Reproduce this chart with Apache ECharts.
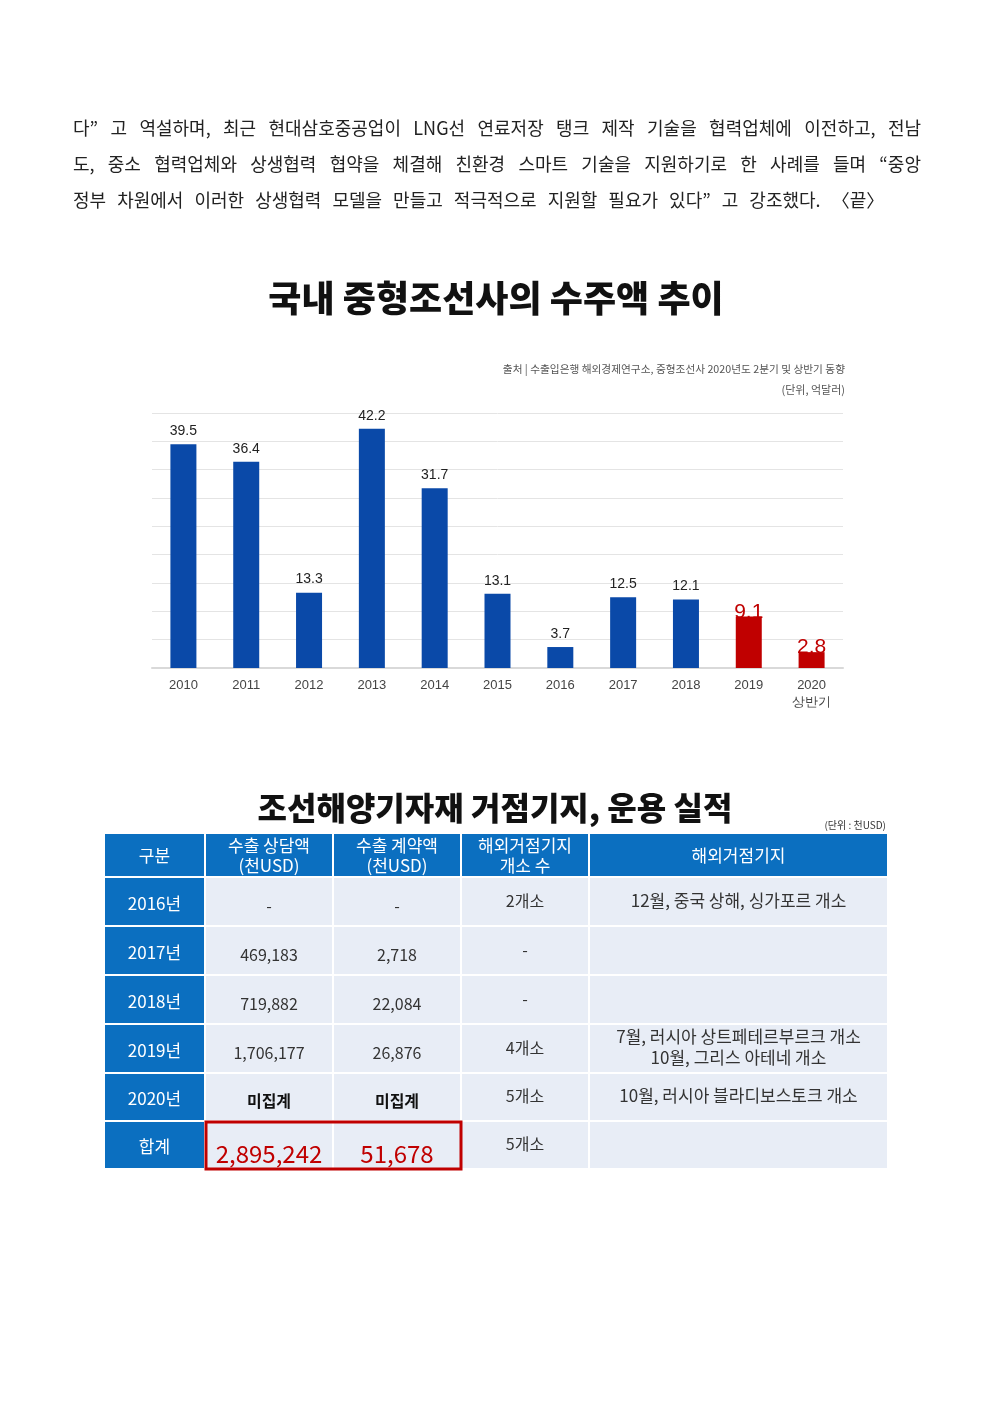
<!DOCTYPE html>
<html>
<head>
<meta charset="utf-8">
<script src="https://cdn.jsdelivr.net/npm/echarts@6/dist/echarts.min.js"></script>
<style>
  html, body { margin: 0; padding: 0; background: #fff; }
  #page { position: relative; width: 992px; height: 1403px; }
  #main { position: absolute; left: 0; top: 0; width: 992px; height: 1403px; }
  #para { position: absolute; left: 73px; top: 109px; width: 848px;
    font-family: "Noto Sans CJK KR", sans-serif; font-size: 18px; line-height: 36px; color: #222; }
  #para div { text-align: justify; text-align-last: justify; white-space: nowrap; }
  #para div.last { text-align: left; text-align-last: left; word-spacing: 7px; }
</style>
</head>
<body>
<div id="page">
  <div id="main"></div>
  <div id="para"></div>
</div>
<script>
// 본문 텍스트
var paraLines = [
  '다” 고 역설하며, 최근 현대삼호중공업이 LNG선 연료저장 탱크 제작 기술을 협력업체에 이전하고, 전남',
  '도, 중소 협력업체와 상생협력 협약을 체결해 친환경 스마트 기술을 지원하기로 한 사례를 들며 “중앙',
  '정부 차원에서 이러한 상생협력 모델을 만들고 적극적으로 지원할 필요가 있다” 고 강조했다. 〈끝〉'
];

// 막대 차트 데이터
var chartTitle = '국내 중형조선사의 수주액 추이';
var sourceText = '출처 | 수출입은행 해외경제연구소, 중형조선사 2020년도 2분기 및 상반기 동향';
var unitText = '(단위, 억달러)';
var years = ['2010', '2011', '2012', '2013', '2014', '2015', '2016', '2017', '2018', '2019', '2020\n상반기'];
var orders = [39.5, 36.4, 13.3, 42.2, 31.7, 13.1, 3.7, 12.5, 12.1, 9.1, 2.8];
var redYears = ['2019', '2020\n상반기'];

// 표 데이터
var tableTitle = '조선해양기자재 거점기지, 운용 실적';
var tableUnit = '(단위 : 천USD)';
var headers = ['구분', '수출 상담액\n(천USD)', '수출 계약액\n(천USD)', '해외거점기지\n개소 수', '해외거점기지'];
var rowLabels = ['2016년', '2017년', '2018년', '2019년', '2020년', '합계'];
var consultAmt = ['-', '469,183', '719,882', '1,706,177', '미집계', '2,895,242'];
var contractAmt = ['-', '2,718', '22,084', '26,876', '미집계', '51,678'];
var baseCount = ['2개소', '-', '-', '4개소', '5개소', '5개소'];
var baseNote = ['12월, 중국 상해, 싱가포르 개소', '', '', '7월, 러시아 상트페테르부르크 개소\n10월, 그리스 아테네 개소', '10월, 러시아 블라디보스토크 개소', ''];

var para = document.getElementById('para');
paraLines.forEach(function (t, i) {
  var d = document.createElement('div');
  d.textContent = t;
  if (i === paraLines.length - 1) d.className = 'last';
  para.appendChild(d);
});

var KR = '"Noto Sans CJK KR", sans-serif';
var NARROW = '"Liberation Sans Narrow", "Liberation Sans", sans-serif';
var BLUE = '#0a49a8';
var RED = '#c00000';
var HEAD = '#0b6fc0';
var CELL = '#e8edf6';

var barData = orders.map(function (v, i) {
  var red = redYears.indexOf(years[i]) !== -1;
  return {
    value: v,
    itemStyle: { color: red ? RED : BLUE },
    label: red ? { color: RED, fontSize: 21, distance: -6 } : {}
  };
});

// 표 그리기
var colX = [104, 205, 333, 461, 589, 888];
var rowY = [833, 877, 926, 975, 1024, 1073, 1121, 1169];
var graphics = [];

function txt(x, y, s, size, color, weight, family, lh) {
  graphics.push({
    type: 'text', z: 10,
    style: {
      x: x, y: y, text: s, fill: color,
      fontSize: size, fontWeight: weight || 'normal', fontFamily: family || KR,
      lineHeight: lh || size * 1.25,
      align: 'center', verticalAlign: 'middle'
    }
  });
}

function cell(c, r, fill) {
  graphics.push({
    type: 'rect', z: 5,
    shape: { x: colX[c], y: rowY[r], width: colX[c + 1] - colX[c], height: rowY[r + 1] - rowY[r] },
    style: { fill: fill, stroke: '#ffffff', lineWidth: 2 }
  });
}

function cx(c) { return (colX[c] + colX[c + 1]) / 2; }
function cy(r) { return (rowY[r] + rowY[r + 1]) / 2; }

headers.forEach(function (h, c) {
  cell(c, 0, HEAD);
  txt(cx(c), cy(0) + 1, h, 17, '#fff', 'normal', KR, 20);
});

rowLabels.forEach(function (lab, i) {
  var r = i + 1;
  var total = i === rowLabels.length - 1;
  cell(0, r, HEAD);
  for (var c = 1; c < 5; c++) cell(c, r, CELL);
  txt(cx(0), cy(r) + 2, lab, 17, '#fff');
  var bold = consultAmt[i] === '미집계' ? 'bold' : 'normal';
  if (total) {
    txt(cx(1), cy(r) + 9, consultAmt[i], 24, RED, 'normal', KR);
    txt(cx(2), cy(r) + 9, contractAmt[i], 24, RED, 'normal', KR);
  } else {
    txt(cx(1), cy(r) + 4, consultAmt[i], 16, bold === 'bold' ? '#111' : '#333', bold);
    txt(cx(2), cy(r) + 4, contractAmt[i], 16, bold === 'bold' ? '#111' : '#333', bold);
  }
  txt(cx(3), cy(r) - 1, baseCount[i], 16, '#333');
  if (baseNote[i]) txt(cx(4), cy(r) - 1, baseNote[i], 17, '#333', 'normal', KR, 21);
});

// 합계 강조 박스
graphics.push({
  type: 'rect', z: 20,
  shape: { x: colX[1] + 1, y: rowY[6] + 1, width: colX[3] - colX[1] - 1, height: rowY[7] - rowY[6] - 1 },
  style: { fill: 'none', stroke: RED, lineWidth: 3 }
});

// 제목, 출처
txt(496, 298, chartTitle, 36, '#111', 900);
graphics.push({ type: 'text', z: 10, style: { x: 845, y: 369, text: sourceText, fill: '#555', fontSize: 10.7, fontFamily: KR, align: 'right', verticalAlign: 'middle' } });
graphics.push({ type: 'text', z: 10, style: { x: 845, y: 390, text: unitText, fill: '#555', fontSize: 11, fontFamily: KR, align: 'right', verticalAlign: 'middle' } });
txt(495, 808, tableTitle, 32, '#111', 900);
graphics.push({ type: 'text', z: 10, style: { x: 886, y: 825, text: tableUnit, fill: '#333', fontSize: 10, fontFamily: KR, align: 'right', verticalAlign: 'middle' } });

var option = {
  backgroundColor: 'transparent',
  animation: false,
  grid: { left: 152, right: 149, top: 413, bottom: 735, containLabel: false },
  xAxis: {
    type: 'category',
    data: years,
    axisLine: { lineStyle: { color: '#d9d9d9', width: 2 } },
    axisTick: { show: false },
    axisLabel: { color: '#444', fontSize: 13, fontFamily: NARROW, margin: 9, lineHeight: 17 }
  },
  yAxis: {
    type: 'value',
    min: 0, max: 45, interval: 5,
    axisLabel: { show: false },
    axisLine: { show: false },
    axisTick: { show: false },
    splitLine: { lineStyle: { color: '#e4e4e4', width: 1 } }
  },
  series: [{
    type: 'bar',
    barWidth: 26,
    data: barData,
    label: {
      show: true, position: 'top', distance: 6,
      color: '#222', fontSize: 14, fontFamily: NARROW
    }
  }],
  graphic: graphics
};

var chart = echarts.init(document.getElementById('main'));
chart.setOption(option);
</script>
</body>
</html>
